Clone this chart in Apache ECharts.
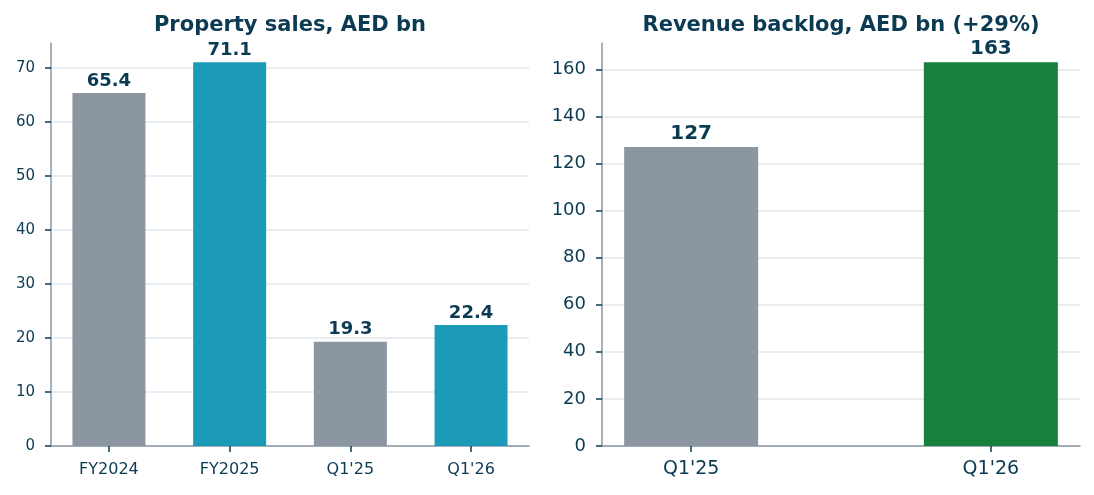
<!DOCTYPE html>
<html><head><meta charset="utf-8">
<script src="https://cdn.jsdelivr.net/npm/echarts@6/dist/echarts.min.js"></script>
<style>html,body{margin:0;padding:0;background:#fff}#c{width:1094px;height:495px}</style>
</head><body><div id="c"></div>
<script>
const salesCategories = ["FY2024", "FY2025", "Q1'25", "Q1'26"];
const salesValues = [65.4, 71.1, 19.3, 22.4];
const salesLabels = ["65.4", "71.1", "19.3", "22.4"];
const salesYTicks = [0, 10, 20, 30, 40, 50, 60, 70];
const backlogCategories = ["Q1'25", "Q1'26"];
const backlogValues = [127, 163];
const backlogLabels = ["127", "163"];
const backlogYTicks = [0, 20, 40, 60, 80, 100, 120, 140, 160];
const leftTitle = "Property sales, AED bn";
const rightTitle = "Revenue backlog, AED bn (+29%)";

const TXT = '#0b3a53', AX = '#8a96a3', GRID = '#e2e7ec';
const GRAY = '#8b96a1', TEAL = '#1b9bb8', GREEN = '#17803d';
const FONT = 'DejaVu Sans';
const salesColors = [GRAY, TEAL, GRAY, TEAL];
const backlogColors = [GRAY, GREEN];

const chart = echarts.init(document.getElementById('c'), null, {renderer: 'canvas'});

function xAxisCfg(idx, cats, min, max, fs, margin) {
  const vals = cats.map((_, i) => i);
  return {
    type: 'value', gridIndex: idx, min: min, max: max,
    axisLine: {show: true, onZero: false, lineStyle: {color: AX, width: 1.5}},
    splitLine: {show: false},
    axisTick: {show: true, customValues: vals, length: 6, lineStyle: {color: TXT, width: 1.5}},
    axisLabel: {customValues: vals, color: TXT, fontFamily: FONT, fontSize: fs, margin: margin,
      formatter: v => cats[Math.round(v)]}
  };
}
function yAxisCfg(idx, max, ticks, fs) {
  return {
    type: 'value', gridIndex: idx, min: 0, max: max,
    axisLine: {show: true, onZero: false, lineStyle: {color: AX, width: 1.5}},
    axisTick: {show: true, customValues: ticks, length: 6, lineStyle: {color: TXT, width: 1.5}},
    splitLine: {show: true, lineStyle: {color: GRID, width: 1.5}},
    axisLabel: {customValues: ticks, color: TXT, fontFamily: FONT, fontSize: fs, margin: 16,
      formatter: v => String(v)}
  };
}

chart.setOption({
  animation: false,
  backgroundColor: '#fff',
  title: [
    {text: leftTitle, left: 290, top: 15, padding: 0, textAlign: 'center',
     textStyle: {color: TXT, fontFamily: FONT, fontSize: 21, fontWeight: 'bold'}},
    {text: rightTitle, left: 841, top: 15, padding: 0, textAlign: 'center',
     textStyle: {color: TXT, fontFamily: FONT, fontSize: 21, fontWeight: 'bold'}}
  ],
  grid: [
    {left: 51, right: 565, top: 43, bottom: 49},
    {left: 602, right: 14, top: 43, bottom: 49}
  ],
  xAxis: [
    xAxisCfg(0, salesCategories, -0.48, 3.48, 16, 16),
    xAxisCfg(1, backlogCategories, -0.2975, 1.2975, 19, 14)
  ],
  yAxis: [
    yAxisCfg(0, 74.66, salesYTicks, 15),
    yAxisCfg(1, 171.15, backlogYTicks, 18)
  ],
  series: [
    {type: 'bar', xAxisIndex: 0, yAxisIndex: 0, barWidth: 73,
     data: salesValues.map((v, i) => ({value: [i, v], itemStyle: {color: salesColors[i]}})),
     label: {show: true, position: 'top', distance: 3, color: TXT, fontFamily: FONT,
       fontSize: 18, fontWeight: 'bold', formatter: p => salesLabels[p.dataIndex]}},
    {type: 'bar', xAxisIndex: 1, yAxisIndex: 1, barWidth: 134,
     data: backlogValues.map((v, i) => ({value: [i, v], itemStyle: {color: backlogColors[i]}})),
     label: {show: true, position: 'top', distance: 3, color: TXT, fontFamily: FONT,
       fontSize: 20, fontWeight: 'bold', formatter: p => backlogLabels[p.dataIndex]}}
  ]
});
</script></body></html>
